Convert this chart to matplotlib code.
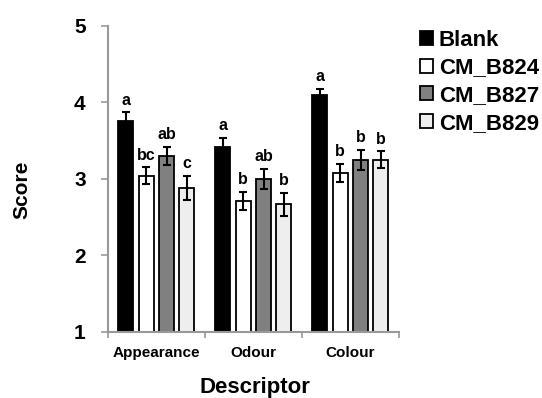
import numpy as np
import matplotlib
matplotlib.use("Agg")
import matplotlib.pyplot as plt

plt.rcParams['font.family'] = ['Liberation Sans', 'DejaVu Sans']
plt.rcParams['font.weight'] = 'bold'

descriptors = ["Appearance", "Odour", "Colour"]
samples = ["Blank", "CM_B824", "CM_B827", "CM_B829"]

blank = [3.76, 3.42, 4.09]
cm_b824 = [3.04, 2.71, 3.08]
cm_b827 = [3.30, 3.00, 3.25]
cm_b829 = [2.88, 2.67, 3.25]

blank_err = [0.11, 0.12, 0.09]
cm_b824_err = [0.11, 0.12, 0.12]
cm_b827_err = [0.12, 0.13, 0.13]
cm_b829_err = [0.16, 0.15, 0.11]

blank_sig = ["a", "a", "a"]
cm_b824_sig = ["bc", "b", "b"]
cm_b827_sig = ["ab", "ab", "b"]
cm_b829_sig = ["c", "b", "b"]

values = [blank, cm_b824, cm_b827, cm_b829]
errors = [blank_err, cm_b824_err, cm_b827_err, cm_b829_err]
letters = [blank_sig, cm_b824_sig, cm_b827_sig, cm_b829_sig]
colors = ["#000000", "#ffffff", "#808080", "#eeeeee"]

fig = plt.figure(figsize=(5.42, 3.98), dpi=100)
ax = fig.add_axes([0.199, 0.166, 0.537, 0.769])

x = np.arange(len(descriptors))
width = 0.155
step = 0.21
for i, (vals, errs, sig, col) in enumerate(zip(values, errors, letters, colors)):
    pos = x + (i - 1.5) * step
    ax.bar(pos, np.array(vals) - 1, width, bottom=1, color=col, edgecolor="black",
           linewidth=1.3, label=samples[i], zorder=2)
    ax.errorbar(pos, vals, yerr=errs, fmt="none", ecolor="black", elinewidth=1.5,
                capsize=3, capthick=1.5, zorder=3)
    for p, v, e, s in zip(pos, vals, errs, sig):
        ax.text(p, v + e + 0.06, s, ha="center", va="bottom", fontsize=11.5,
                fontweight="bold")

ax.set_xlim(-0.5, 2.5)
ax.set_ylim(1, 5)
ax.set_yticks([1, 2, 3, 4, 5])
ax.set_xticks([-0.5, 0.5, 1.5, 2.5])
ax.set_xticklabels([])
ax.set_xticks(x, minor=True)
ax.set_xticklabels(descriptors, minor=True, fontsize=11, fontweight="bold")
ax.tick_params(axis="x", which="minor", length=0, pad=10)
ax.tick_params(axis="x", which="major", length=4, color="#999999", width=1.2)
ax.tick_params(axis="y", length=5, color="#999999", width=1.2, labelsize=15, pad=11)
for lab in ax.get_yticklabels():
    lab.set_fontweight("bold")

for side in ["top", "right"]:
    ax.spines[side].set_visible(False)
for side in ["left", "bottom"]:
    ax.spines[side].set_color("#999999")
    ax.spines[side].set_linewidth(1.5)

fig.text(22 / 542, 1 - 190 / 398, "Score", rotation=90, ha="center", va="center",
         fontsize=15, fontweight="bold")
fig.text(255 / 542, 1 - 387 / 398, "Descriptor", ha="center", va="center",
         fontsize=16, fontweight="bold")

ax.legend(loc="upper left", bbox_to_anchor=(1.072, 0.987), frameon=False,
          borderaxespad=0, borderpad=0,
          prop={"size": 16, "weight": "bold"}, handlelength=0.58, handleheight=0.58,
          handletextpad=0.27, labelspacing=0.3)

fig.savefig("out.png", dpi=100)
